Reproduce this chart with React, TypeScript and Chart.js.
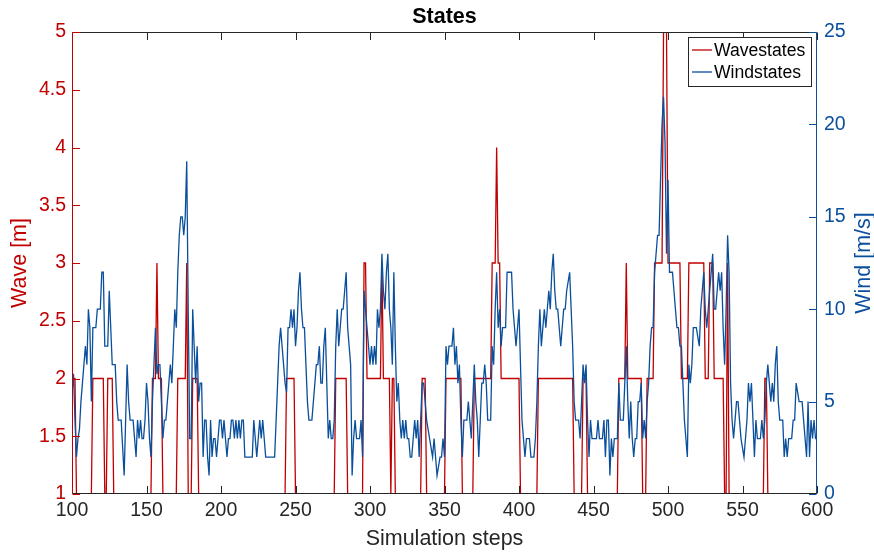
import React, { useEffect, useRef } from "react";
import { Chart, registerables } from "chart.js";

Chart.register(...registerables);

// ---- data ----
const STEP_START = 100; // first simulation step
const X_TICKS = [100, 150, 200, 250, 300, 350, 400, 450, 500, 550, 600];
const WAVE_TICKS = [1, 1.5, 2, 2.5, 3, 3.5, 4, 4.5, 5];
const WIND_TICKS = [0, 5, 10, 15, 20, 25];

// wave state [m], one value per step 100..600
const waveStates = [
  2, 2, 2, 1, 1, 1, 1, 1, 1, 1,
  1, 1, 1, 1, 2, 2, 2, 2, 2, 2,
  2, 2, 1, 1, 2, 2, 2, 2, 1, 1,
  1, 1, 1, 1, 1, 1, 1, 1, 1, 1,
  1, 1, 1, 1, 1, 1, 1, 1, 1, 1,
  1, 1, 1, 1, 2, 2, 2, 3, 2, 2,
  2, 1, 1, 1, 1, 1, 1, 1, 1, 1,
  1, 2, 2, 2, 2, 2, 2, 3, 1, 1,
  1, 2, 2, 2, 2, 1, 1, 1, 1, 1,
  1, 1, 1, 1, 1, 1, 1, 1, 1, 1,
  1, 1, 1, 1, 1, 1, 1, 1, 1, 1,
  1, 1, 1, 1, 1, 1, 1, 1, 1, 1,
  1, 1, 1, 1, 1, 1, 1, 1, 1, 1,
  1, 1, 1, 1, 1, 1, 1, 1, 1, 1,
  1, 1, 1, 1, 2, 2, 2, 2, 2, 2,
  1, 1, 1, 1, 1, 1, 1, 1, 1, 1,
  1, 1, 1, 1, 1, 1, 1, 1, 1, 1,
  1, 1, 1, 1, 1, 1, 1, 2, 2, 2,
  2, 2, 2, 2, 2, 1, 1, 1, 1, 1,
  1, 1, 1, 1, 1, 1, 3, 3, 2, 2,
  2, 2, 2, 2, 2, 2, 2, 2, 3, 2,
  2, 2, 2, 2, 1, 2, 2, 1, 1, 1,
  1, 1, 1, 1, 1, 1, 1, 1, 1, 1,
  1, 1, 1, 1, 1, 2, 2, 2, 1, 1,
  1, 1, 1, 1, 1, 1, 1, 1, 1, 1,
  1, 2, 2, 2, 2, 2, 2, 2, 2, 2,
  2, 2, 1, 1, 1, 1, 1, 1, 1, 1,
  2, 2, 2, 2, 2, 2, 2, 2, 2, 2,
  2, 2, 3, 3, 3, 4, 3, 3, 2, 2,
  2, 2, 2, 2, 2, 2, 2, 2, 2, 2,
  2, 1, 1, 1, 1, 1, 1, 1, 1, 1,
  1, 1, 1, 2, 2, 2, 2, 2, 2, 2,
  2, 2, 2, 2, 2, 2, 2, 2, 2, 2,
  2, 2, 2, 2, 2, 2, 2, 1, 1, 1,
  1, 1, 1, 2, 2, 2, 1, 1, 1, 1,
  1, 1, 1, 1, 1, 1, 1, 1, 1, 1,
  1, 1, 1, 1, 1, 1, 1, 2, 2, 2,
  2, 2, 3, 2, 2, 2, 2, 2, 2, 2,
  2, 2, 2, 1, 1, 1, 2, 2, 2, 2,
  2, 3, 3, 3, 3, 3, 3, 5, 5, 5,
  3, 3, 3, 3, 3, 3, 3, 3, 3, 2,
  2, 2, 2, 2, 3, 3, 3, 3, 3, 3,
  3, 3, 3, 3, 3, 2, 2, 2, 3, 3,
  3, 2, 2, 2, 2, 2, 2, 2, 1, 1,
  3, 1, 1, 1, 1, 1, 1, 1, 1, 1,
  1, 1, 1, 1, 1, 1, 1, 1, 1, 1,
  1, 1, 1, 1, 1, 2, 2, 1, 1, 1,
  1, 1, 1, 1, 1, 1, 1, 1, 1, 1,
  1, 1, 1, 1, 1, 1, 1, 1, 1, 1,
  1, 1, 1, 1, 1, 1, 1, 1, 1, 1,
  1,
];

// wind state [m/s], one value per step 100..600
const windStates = [
  5.5, 6.5, 4, 2, 3, 3.5, 5, 6, 7, 8,
  7, 10, 9, 5, 9, 9, 9, 10, 10, 10,
  12, 12, 8, 8, 8, 11, 9, 7, 7, 7,
  5, 4, 4, 4, 2.5, 1, 4, 7, 5, 4,
  4, 4, 3, 2, 4, 3, 4, 3, 3, 4,
  6, 5, 3, 2, 5, 7, 9, 6.5, 7, 7,
  5, 3, 4, 4, 5, 6, 7, 6, 8, 10,
  9, 12, 14, 15, 15, 14, 15, 18, 10, 3,
  3, 10, 8, 6, 8, 5, 6, 6, 2, 4,
  4, 2, 1, 4, 2, 3, 3, 2, 3, 4,
  4, 3, 4, 3, 2, 3, 3, 4, 4, 3,
  4, 3, 4, 3, 4, 4, 2, 2, 2, 2,
  2, 2, 4, 3, 2, 3, 4, 3, 4, 3,
  2, 2, 2, 2, 2, 2, 2, 4, 6, 8,
  9, 8, 7, 6, 5.5, 9, 9, 10, 9, 10,
  8, 9, 11, 12, 10, 9, 9, 7, 5, 4,
  4, 4, 5, 6, 7, 7, 8, 6, 6, 8,
  9, 6, 3, 4, 3, 3, 4, 8, 10, 8,
  9, 10, 10, 11, 12, 9, 8, 7, 1, 3,
  4, 3, 3, 3, 4, 2, 11, 10, 9, 8,
  7, 8, 7, 8, 7, 10, 9, 10, 13, 11,
  10, 12, 13, 10, 9, 7, 12, 8, 5, 6,
  4, 3, 4, 3, 4, 3, 3, 2, 2, 3,
  4, 3, 4, 2, 4, 6, 6, 5, 4, 3.5,
  3, 2.5, 2, 3, 2, 1, 1.5, 2, 2, 3,
  2, 8, 7, 8, 8, 8, 9, 7, 8, 6,
  7, 4, 2, 4, 4, 4, 5, 4, 3, 5,
  7, 5, 4, 2, 4, 6, 6, 7, 6, 4,
  4, 4, 8, 7, 10, 12, 9, 10, 8, 9,
  9, 9, 12, 12, 12, 12, 10, 9, 8, 9,
  10, 7, 4, 3, 2, 3, 3, 3, 2, 2,
  2, 3, 5, 8, 10, 8, 9, 10, 9, 10,
  11, 10, 12, 13, 11, 10, 10, 9, 8, 9,
  10, 10, 11, 11.5, 12, 10, 8, 5, 4, 4,
  4, 3, 5, 7, 6, 7, 4, 2, 4, 3,
  3, 3, 3, 4, 3, 3, 3, 4, 2, 4,
  4, 1, 3, 2, 3, 3, 3, 6, 4, 4,
  4, 6, 8, 5, 3, 5, 3, 2, 3, 3,
  5, 5, 6, 3, 4, 3, 5, 6, 8, 9,
  9, 12, 13, 14, 14, 17, 20, 21.5, 19, 13,
  17, 12, 12, 12, 11, 10, 9, 9, 8, 8,
  6, 4, 3, 2, 7, 6, 7, 9, 9, 9,
  8.5, 8, 10, 11, 12, 10, 9, 10, 11, 12,
  13, 10, 10, 11, 12, 11, 12, 9, 7, 10,
  14, 12, 6, 4, 3, 4, 5, 5, 4, 3,
  2.5, 2, 3, 4, 6, 5, 6, 4, 2, 4,
  3, 3, 3, 4, 3, 4, 6, 7, 6, 5,
  6, 5, 7, 8, 5, 4, 4, 4, 2, 3,
  2, 3, 3, 3, 4, 4, 6, 5.5, 5, 5,
  5, 4, 3, 2, 5, 2, 4, 3, 4, 3,
  3,
];

const TITLE = "States";
const X_TITLE = "Simulation steps";
const Y_LEFT_TITLE = "Wave [m]";
const Y_RIGHT_TITLE = "Wind [m/s]";
const SERIES_NAMES = ["Wavestates", "Windstates"];

// ---- styles ----
const RED = "#C00000";
const BLUE = "#0A4F9C";
const DARK = "#262626";
const FONT = "'Liberation Sans', Arial, Helvetica, sans-serif";
const TICK_SIZE = 19.5;
const LABEL_SIZE = 21.5;
const LEGEND_SIZE = 17.6;
const TICK_LEN = 7.5;

const decorPlugin = {
  id: "decor",
  afterDatasetsDraw(chart: any) {
    const ctx: CanvasRenderingContext2D = chart.ctx;
    const { left, right, top, bottom } = chart.chartArea;
    const xs = chart.scales.x;
    const yl = chart.scales.y;
    const yr = chart.scales.y1;
    const L = Math.round(left) + 0.5;
    const R = Math.round(right) - 0.5;
    const T = Math.round(top) + 0.5;
    const B = Math.round(bottom) - 0.5;
    const seg = (x1: number, y1: number, x2: number, y2: number) => {
      ctx.beginPath();
      ctx.moveTo(x1, y1);
      ctx.lineTo(x2, y2);
      ctx.stroke();
    };
    ctx.save();
    ctx.lineWidth = 1;
    // box top / bottom + x ticks
    ctx.strokeStyle = DARK;
    seg(L, T, R, T);
    seg(L, B, R, B);
    for (const v of X_TICKS) {
      const px = Math.round(xs.getPixelForValue(v)) + 0.5;
      seg(px, B, px, B - TICK_LEN);
      seg(px, T, px, T + TICK_LEN);
    }
    // left axis
    ctx.strokeStyle = RED;
    seg(L, T, L, B);
    for (const v of WAVE_TICKS) {
      const py = Math.round(yl.getPixelForValue(v)) + 0.5;
      seg(L, py, L + TICK_LEN, py);
    }
    // right axis
    ctx.strokeStyle = BLUE;
    seg(R, T, R, B);
    for (const v of WIND_TICKS) {
      const py = Math.round(yr.getPixelForValue(v)) + 0.5;
      seg(R, py, R - TICK_LEN, py);
    }

    // titles
    const cx = (left + right) / 2;
    ctx.textAlign = "center";
    ctx.textBaseline = "alphabetic";
    ctx.fillStyle = "#000";
    ctx.font = `bold ${LABEL_SIZE}px ${FONT}`;
    ctx.fillText(TITLE, cx, 23);
    ctx.fillStyle = DARK;
    ctx.font = `${LABEL_SIZE}px ${FONT}`;
    ctx.fillText(X_TITLE, cx, 545);

    const cy = (top + bottom) / 2;
    ctx.save();
    ctx.translate(26, cy);
    ctx.rotate(-Math.PI / 2);
    ctx.fillStyle = RED;
    ctx.fillText(Y_LEFT_TITLE, 0, 0);
    ctx.restore();
    ctx.save();
    ctx.translate(870, cy);
    ctx.rotate(-Math.PI / 2);
    ctx.fillStyle = BLUE;
    ctx.fillText(Y_RIGHT_TITLE, 0, 0);
    ctx.restore();

    // legend
    const bx = 688.5, by = 37.5, bw = 123, bh = 49;
    ctx.fillStyle = "#fff";
    ctx.fillRect(bx, by, bw, bh);
    ctx.strokeStyle = DARK;
    ctx.strokeRect(bx, by, bw, bh);
    const colors = [RED, BLUE];
    const rows = [50, 72];
    ctx.font = `${LEGEND_SIZE}px ${FONT}`;
    ctx.textAlign = "left";
    ctx.textBaseline = "middle";
    SERIES_NAMES.forEach((name, i) => {
      ctx.strokeStyle = colors[i];
      ctx.lineWidth = 1.3;
      seg(692, rows[i], 712, rows[i]);
      ctx.fillStyle = "#000";
      ctx.fillText(name, 714, rows[i] + 1);
    });
    ctx.restore();
  },
};

export default function App() {
  const canvasRef = useRef<HTMLCanvasElement | null>(null);

  useEffect(() => {
    const canvas = canvasRef.current;
    if (!canvas) return;
    const wavePts = waveStates.map((v, i) => ({ x: STEP_START + i, y: v }));
    const windPts = windStates.map((v, i) => ({ x: STEP_START + i, y: v }));
    const tickFont = { family: FONT, size: TICK_SIZE };
    const chart = new Chart(canvas, {
      type: "line",
      data: {
        datasets: [
          {
            label: SERIES_NAMES[1],
            data: windPts,
            yAxisID: "y1",
            borderColor: BLUE,
            borderWidth: 1.3,
            pointRadius: 0,
            tension: 0,
            fill: false,
          },
          {
            label: SERIES_NAMES[0],
            data: wavePts,
            yAxisID: "y",
            borderColor: RED,
            borderWidth: 1.3,
            pointRadius: 0,
            tension: 0,
            fill: false,
          },
        ],
      },
      options: {
        responsive: false,
        animation: false,
        events: [],
        layout: { padding: { top: 32, left: 0, right: 0, bottom: 0 } },
        plugins: {
          legend: { display: false },
          title: { display: false },
          tooltip: { enabled: false },
        },
        scales: {
          x: {
            type: "linear",
            min: 100,
            max: 600,
            afterBuildTicks: (s: any) => {
              s.ticks = X_TICKS.map((v) => ({ value: v }));
            },
            afterFit: (s: any) => {
              s.height = 60;
            },
            grid: { display: false, drawTicks: false },
            border: { display: false },
            ticks: {
              color: DARK,
              font: tickFont,
              padding: 5,
              maxRotation: 0,
              autoSkip: false,
              callback: (v: any) => String(v),
            },
          },
          y: {
            type: "linear",
            position: "left",
            min: 1,
            max: 5,
            afterBuildTicks: (s: any) => {
              s.ticks = WAVE_TICKS.map((v) => ({ value: v }));
            },
            afterFit: (s: any) => {
              s.width = 72;
            },
            grid: { display: false, drawTicks: false },
            border: { display: false },
            ticks: {
              color: RED,
              font: tickFont,
              padding: 6,
              autoSkip: false,
              callback: (v: any) => String(v),
            },
          },
          y1: {
            type: "linear",
            position: "right",
            min: 0,
            max: 25,
            afterBuildTicks: (s: any) => {
              s.ticks = WIND_TICKS.map((v) => ({ value: v }));
            },
            afterFit: (s: any) => {
              s.width = 57;
            },
            grid: { display: false, drawTicks: false },
            border: { display: false },
            ticks: {
              color: BLUE,
              font: tickFont,
              padding: 7,
              autoSkip: false,
              callback: (v: any) => String(v),
            },
          },
        },
      },
      plugins: [decorPlugin],
    });
    return () => chart.destroy();
  }, []);

  return (
    <div style={{ position: "absolute", left: 0, top: 0, width: 874, height: 554, background: "#fff" }}>
      <canvas ref={canvasRef} width={874} height={554} style={{ display: "block" }} />
    </div>
  );
}
